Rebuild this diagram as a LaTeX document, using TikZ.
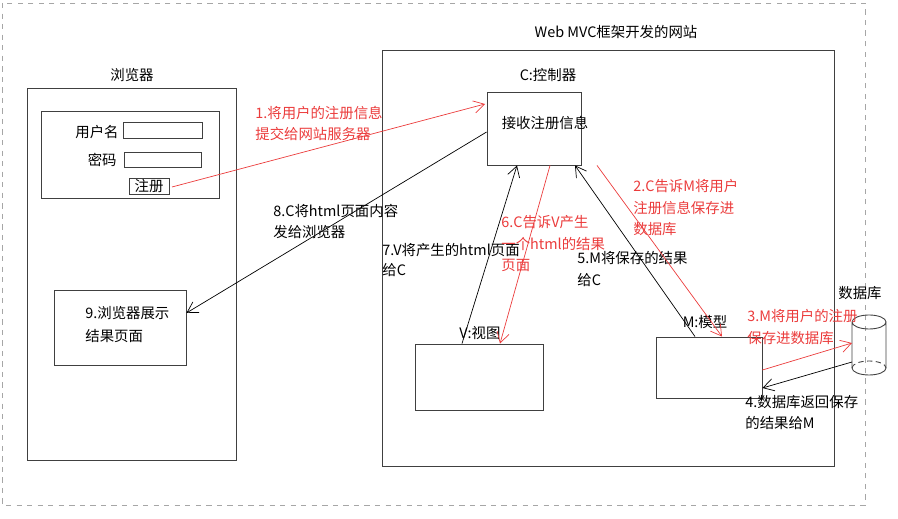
\documentclass[tikz,border=0pt]{standalone}
\usepackage{fontspec}
\setmainfont{Noto Sans CJK SC}
\usetikzlibrary{arrows.meta}
\definecolor{redline}{RGB}{235,60,60}

\begin{document}
\begin{tikzpicture}[x=0.02cm,y=-0.02cm,font=\fontsize{8.2}{10}\selectfont,
    >={Straight Barb[length=6pt,width=7pt]},
    txt/.style={anchor=west,inner sep=0pt},
    box/.style={draw=black!75,line width=0.5pt},
    redtxt/.style={txt,text=redline}]
        \useasboundingbox (0,0) rectangle (898,519);
        \draw[gray!70,dashed] (2,3) rectangle (865,505);

        % browser
        \node (Btitle) at (132,75) {浏览器};
        \draw[box] (27,88) rectangle (236,460);
        \draw[box] (41,111) rectangle (219,198);
        \node[anchor=east,inner sep=0pt] (user) at (119,132) {用户名};
        \node[box,minimum width=1.58cm,minimum height=0.32cm,inner sep=0pt] (userIn) at (162.5,130) {};
        \node[anchor=east,inner sep=0pt] (pwd) at (117,160) {密码};
        \node[box,minimum width=1.54cm,minimum height=0.3cm,inner sep=0pt] (pwdIn) at (162.5,159.5) {};
        \node[box,minimum width=0.8cm,minimum height=0.32cm,inner sep=0pt] (reg) at (149,186) {注册};
        \node[box,minimum width=2.64cm,minimum height=1.5cm,inner sep=0pt] (res) at (120,327.5) {};
        \node[txt] (resT1) at (85,313) {9.浏览器展示};
        \node[txt] (resT2) at (85,336) {结果页面};

        % web mvc
        \node (Wtitle) at (616,32) {Web MVC框架开发的网站};
        \draw[box] (382,50) rectangle (834,466);
        \node (Clabel) at (548,75) {C:控制器};
        \node[box,minimum width=1.88cm,minimum height=1.46cm,inner sep=0pt] (C) at (534,128.5) {};
        \node (Ctext) at (545,123) {接收注册信息};
        \node (Vlabel) at (480,333) {V:视图};
        \node[box,minimum width=2.56cm,minimum height=1.32cm,inner sep=0pt] (V) at (479,377) {};
        \node (Mlabel) at (705,322) {M:模型};
        \node[box,minimum width=2.12cm,minimum height=1.22cm,inner sep=0pt] (M) at (709,367.5) {};

        % database
        \node (DBlabel) at (860,293) {数据库};
        \coordinate (DB) at (852,344);
        \draw[box] (852,322) arc[start angle=180,end angle=-180,x radius=17,y radius=-7]
            (852,322) -- (852,368) arc[start angle=180,end angle=360,x radius=17,y radius=-7] -- (886,322);
        \draw[box,densely dashed] (852,368) arc[start angle=180,end angle=0,x radius=17,y radius=-7];

        % connectors
        \coordinate (p1) at (172,187);
        \coordinate (p2) at (485,104);
        \draw[redline,->] (p1) -- (p2);
        \node[redtxt] (t1a) at (255,113) {1.将用户的注册信息};
        \node[redtxt] (t1b) at (255,134) {提交给网站服务器};

        \draw[->] (C.west |- 0,132) -- (res.east |- 0,313);
        \node[txt] (t8a) at (273,211) {8.C将html页面内容};
        \node[txt] (t8b) at (273,232) {发给浏览器};

        \draw[->] (V.north -| 462,0) -- (C.south -| 517,0);
        \node[txt] (t7a) at (382,250) {7.V将产生的html页面};
        \node[txt] (t7b) at (382,270) {给C};

        \draw[redline,->] (C.south -| 550,0) -- (V.north -| 500,0);
        \node[redtxt] (t6a) at (501,222) {6.C告诉V产生};
        \node[redtxt] (t6b) at (501,244) {一个html的结果};
        \node[redtxt] (t6c) at (501,265) {页面};

        \draw[->] (M.north -| 695,0) -- (C.south -| 575,0);
        \node[txt] (t5a) at (577,258) {5.M将保存的结果};
        \node[txt] (t5b) at (577,280) {给C};

        \draw[redline,->] (C.south -| 597,0) -- (M.north -| 722,0);
        \node[redtxt] (t2a) at (633,186) {2.C告诉M将用户};
        \node[redtxt] (t2b) at (633,208) {注册信息保存进};
        \node[redtxt] (t2c) at (633,229) {数据库};

        \draw[redline,->] (M.east |- 0,370) -- (DB |- 0,343);
        \node[redtxt] (t3a) at (747,316) {3.M将用户的注册};
        \node[redtxt] (t3b) at (747,338) {保存进数据库};

        \draw[->] (DB |- 0,362) -- (M.east |- 0,388);
        \node[txt] (t4a) at (745,402) {4.数据库返回保存};
        \node[txt] (t4b) at (745,423) {的结果给M};
    \end{tikzpicture}
\end{document}
